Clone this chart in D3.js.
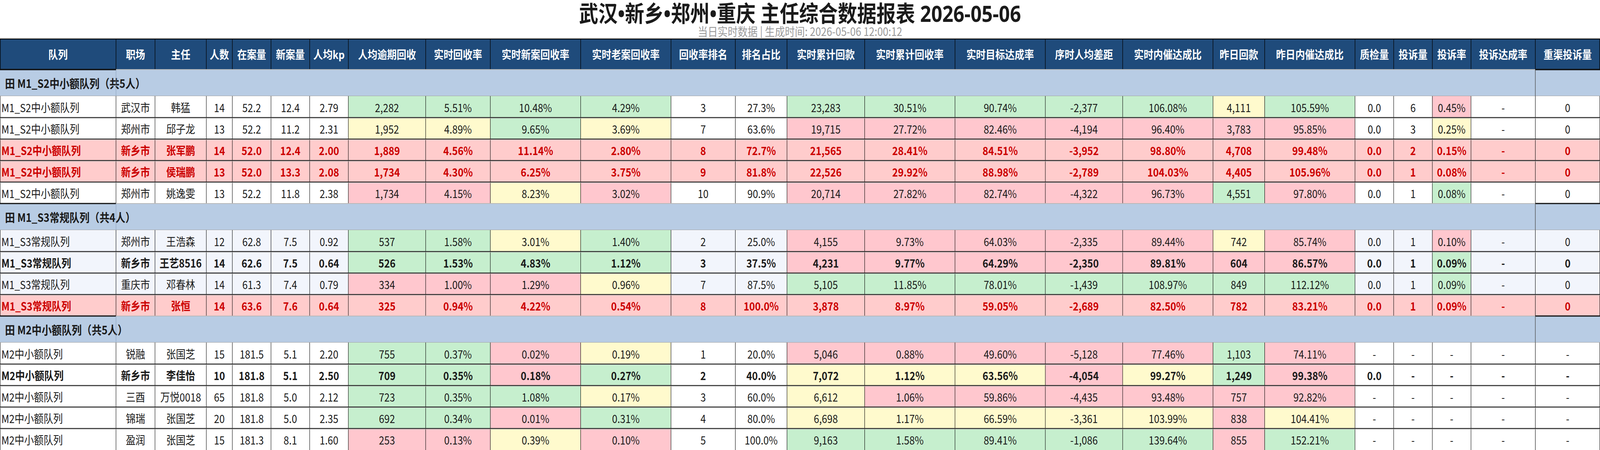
<!DOCTYPE html>
<html>
<head>
<meta charset="utf-8">
<script src="https://cdn.jsdelivr.net/npm/d3@7"></script>
<style>
  html, body { margin: 0; width: 100%; height: 100%; background: #fff; overflow: hidden; }
  #chart, svg { display: block; width: 100vw; height: 100vh; }
  text { font-family: "Noto Sans CJK SC", "Noto Sans", sans-serif; }
  text.title { font-family: "Noto Sans", "Noto Sans CJK SC", sans-serif; }
</style>
</head>
<body>
<div id="chart"></div>
<script>
// ---- data ----
const title = "武汉•新乡•郑州•重庆 主任综合数据报表 2026-05-06";
const subtitle = "当日实时数据 | 生成时间: 2026-05-06 12:00:12";

const headers = ["队列", "职场", "主任", "人数", "在案量", "新案量", "人均kp", "人均逾期回收", "实时回收率",
  "实时新案回收率", "实时老案回收率", "回收率排名", "排名占比", "实时累计回款", "实时累计回收率", "实时目标达成率",
  "序时人均差距", "实时内催达成比", "昨日回款", "昨日内催达成比", "质检量", "投诉量", "投诉率", "投诉达成率", "重渠投诉量"];

const groups = ["M1_S2中小额队列", "M1_S3常规队列", "M2中小额队列"];
const groupSize = [5, 4, 5];

const site = ["武汉市", "郑州市", "新乡市", "新乡市", "郑州市", "郑州市", "新乡市", "重庆市", "新乡市", "锐融", "新乡市", "三酉", "锦瑞", "盈润"];
const director = ["韩猛", "邱子龙", "张军鹏", "侯瑞鹏", "姚逸雯", "王浩森", "王艺8516", "邓春林", "张恒", "张国芝", "李佳怡", "万悦0018", "张国芝", "张国芝"];
const headcount = [14, 13, 14, 13, 13, 12, 14, 14, 14, 15, 10, 65, 20, 15];
const caseload = [52.2, 52.2, 52.0, 52.0, 52.2, 62.8, 62.6, 61.3, 63.6, 181.5, 181.8, 181.8, 181.8, 181.3];
const newCases = [12.4, 11.2, 12.4, 13.3, 11.8, 7.5, 7.5, 7.4, 7.6, 5.1, 5.1, 5.0, 5.0, 8.1];
const kp = [2.79, 2.31, 2.00, 2.08, 2.38, 0.92, 0.64, 0.79, 0.64, 2.20, 2.50, 2.12, 2.35, 1.60];
const overdueRecovery = [2282, 1952, 1889, 1734, 1734, 537, 526, 334, 325, 755, 709, 723, 692, 253];
const recoveryRate = [5.51, 4.89, 4.56, 4.30, 4.15, 1.58, 1.53, 1.00, 0.94, 0.37, 0.35, 0.35, 0.34, 0.13];
const newRate = [10.48, 9.65, 11.14, 6.25, 8.23, 3.01, 4.83, 1.29, 4.22, 0.02, 0.18, 1.08, 0.01, 0.39];
const oldRate = [4.29, 3.69, 2.80, 3.75, 3.02, 1.40, 1.12, 0.96, 0.54, 0.19, 0.27, 0.17, 0.31, 0.10];
const rank = [3, 7, 8, 9, 10, 2, 3, 7, 8, 1, 2, 3, 4, 5];
const rankPct = [27.3, 63.6, 72.7, 81.8, 90.9, 25.0, 37.5, 87.5, 100.0, 20.0, 40.0, 60.0, 80.0, 100.0];
const cumPayment = [23283, 19715, 21565, 22526, 20714, 4155, 4231, 5105, 3878, 5046, 7072, 6612, 6698, 9163];
const cumRate = [30.51, 27.72, 28.41, 29.92, 27.82, 9.73, 9.77, 11.85, 8.97, 0.88, 1.12, 1.06, 1.17, 1.58];
const targetRate = [90.74, 82.46, 84.51, 88.98, 82.74, 64.03, 64.29, 78.01, 59.05, 49.60, 63.56, 59.86, 66.59, 89.41];
const gap = [-2377, -4194, -3952, -2789, -4322, -2335, -2350, -1439, -2689, -5128, -4054, -4435, -3361, -1086];
const innerRatio = [106.08, 96.40, 98.80, 104.03, 96.73, 89.44, 89.81, 108.97, 82.50, 77.46, 99.27, 93.48, 103.99, 139.64];
const yesterdayPay = [4111, 3783, 4708, 4405, 4551, 742, 604, 849, 782, 1103, 1249, 757, 838, 855];
const yesterdayRatio = [105.59, 95.85, 99.48, 105.96, 97.80, 85.74, 86.57, 112.12, 83.21, 74.11, 99.38, 92.82, 104.41, 152.21];
const qc = [0, 0, 0, 0, 0, 0, 0, 0, 0, null, 0, null, null, null];
const complaints = [6, 3, 2, 1, 1, 1, 1, 1, 1, null, null, null, null, null];
const complaintRate = [0.45, 0.25, 0.15, 0.08, 0.08, 0.10, 0.09, 0.09, 0.09, null, null, null, null, null];
const complaintTarget = [null, null, null, null, null, null, null, null, null, null, null, null, null, null];
const reComplaints = [0, 0, 0, 0, 0, 0, 0, 0, 0, null, null, null, null, null];

// G = good, Y = warn, P = bad, _ = none; for the graded columns in order
const levels = ["GGGGGGGGGYGP", "YYGYPPPPPPPY", "PPPPPPPPPPPP", "PPPPPPPPPPPP", "PPYPPPPPPGPG",
  "GGYGPPPPPYPP", "GGGGPPPPPPPG", "PPPYGGGGGGGG", "PPPPPPPPPPPP",
  "GGPYPPPPPGP_", "GGPGYYYPYGP_", "GGGYYPPPPPP_", "GGPGYYYYYPY_", "PPYPGGGGGPG_"];
// hl = flagged row, bold = emphasised row
const rowFlag = ["", "", "hl", "hl", "", "", "bold", "", "hl", "", "bold", "", "", ""];

// ---- layout (drawn in 4800x1152 units, scaled to the window) ----
const W = 4800, H = 1152;
const colW = [348, 117, 154, 78, 116, 116, 116, 232, 194, 271, 271, 193, 155, 233, 271, 271, 232, 271, 155, 271, 116, 116, 116, 193, 194];
const levelCols = [7, 8, 9, 10, 13, 14, 15, 16, 17, 18, 19, 22];
const levelFill = { G: "#C6EFCE", Y: "#FFFACD", P: "#FFC7CE" };
const hlFill = "#FFCCCC";
const headTop = 100, headH = 78, groupH = 68, rowH = 55;
const fs = 29;

const colX = [0, ...d3.cumsum(colW)];
const nCol = colW.length;

const loc = d3.formatLocale({ decimal: ".", thousands: ",", grouping: [3], currency: ["", ""], minus: "-" });
const fInt = loc.format(","), f1 = loc.format(".1f"), f2 = loc.format(".2f");
const orDash = f => v => (v == null ? "-" : f(v));
const p2 = v => f2(v) + "%", p1 = v => f1(v) + "%";

// queue per row from the group sizes
const queue = groups.flatMap((g, i) => d3.range(groupSize[i]).map(() => g));
const groupOf = groups.flatMap((g, i) => d3.range(groupSize[i]).map(() => i));

function cellsFor(i) {
  return [queue[i], site[i], director[i], String(headcount[i]), f1(caseload[i]), f1(newCases[i]), f2(kp[i]),
    fInt(overdueRecovery[i]), p2(recoveryRate[i]), p2(newRate[i]), p2(oldRate[i]), String(rank[i]), p1(rankPct[i]),
    fInt(cumPayment[i]), p2(cumRate[i]), p2(targetRate[i]), fInt(gap[i]), p2(innerRatio[i]), fInt(yesterdayPay[i]),
    p2(yesterdayRatio[i]), orDash(f1)(qc[i]), orDash(String)(complaints[i]), orDash(p2)(complaintRate[i]),
    orDash(String)(complaintTarget[i]), orDash(String)(reComplaints[i])];
}

// table rows with their vertical position
const tableRows = [];
let yy = headTop + headH, k = 0;
groups.forEach((g, gi) => {
  tableRows.push({ type: "group", gi, y: yy, h: groupH });
  yy += groupH;
  for (let j = 0; j < groupSize[gi]; j++) {
    tableRows.push({ type: "data", i: k++, y: yy, h: rowH });
    yy += rowH;
  }
});

const svg = d3.select("#chart").append("svg")
  .attr("viewBox", `0 0 ${W} ${H}`)
  .attr("preserveAspectRatio", "none");

// titles
svg.append("text").attr("class", "title").attr("x", W / 2).attr("y", 33).attr("text-anchor", "middle")
  .attr("dominant-baseline", "central").attr("font-size", 58).attr("font-weight", 700)
  .attr("fill", "#1a1a1a").text(title);
svg.append("text").attr("x", W / 2).attr("y", 79).attr("text-anchor", "middle")
  .attr("dominant-baseline", "central").attr("font-size", 30).attr("fill", "#9a9a9a").text(subtitle);

// header
const head = svg.append("g").attr("transform", `translate(0,${headTop})`);
head.selectAll("rect").data(headers).join("rect")
  .attr("x", (d, i) => colX[i]).attr("y", 0).attr("width", (d, i) => colW[i]).attr("height", headH)
  .attr("fill", "#1F4B7B");
head.selectAll("text").data(headers).join("text")
  .attr("x", (d, i) => colX[i] + colW[i] / 2).attr("y", headH / 2)
  .attr("text-anchor", "middle").attr("dominant-baseline", "central")
  .attr("font-size", fs).attr("font-weight", 700).attr("fill", "#fff").text(d => d);
head.selectAll("line.v").data(colX).join("line").attr("class", "v")
  .attr("x1", d => Math.min(Math.max(d, 1), W - 1)).attr("x2", d => Math.min(Math.max(d, 1), W - 1))
  .attr("y1", 0).attr("y2", headH).attr("stroke", "#000").attr("stroke-width", 1.5);
head.append("line").attr("x1", 0).attr("x2", W).attr("y1", -2).attr("y2", -2).attr("stroke", "#cfcfcf").attr("stroke-width", 2);
head.append("line").attr("x1", 0).attr("x2", W).attr("y1", 0).attr("y2", 0).attr("stroke", "#000").attr("stroke-width", 2);

// body rows
const rowG = svg.selectAll("g.row").data(tableRows).join("g").attr("class", "row")
  .attr("transform", d => `translate(0,${d.y})`);

rowG.each(function (r) {
  const g = d3.select(this);
  if (r.type === "group") {
    g.append("rect").attr("width", W).attr("height", r.h).attr("fill", "#B8CCE4");
    // middle top border light, frozen first/last columns dark
    g.append("line").attr("x1", colX[1]).attr("x2", colX[nCol - 1]).attr("y1", 0).attr("y2", 0)
      .attr("stroke", "#b9b9b9").attr("stroke-width", 2);
    [[0, colX[1]], [colX[nCol - 1], W]].forEach(([a, b]) => {
      g.append("line").attr("x1", a).attr("x2", b).attr("y1", 0).attr("y2", 0)
        .attr("stroke", "#111").attr("stroke-width", 3);
    });
    g.append("line").attr("x1", 0).attr("x2", W).attr("y1", r.h).attr("y2", r.h)
      .attr("stroke", "#a2a2a2").attr("stroke-width", 2);
    g.append("line").attr("x1", colX[nCol - 1]).attr("x2", colX[nCol - 1]).attr("y1", 0).attr("y2", r.h)
      .attr("stroke", "#4a4a4a").attr("stroke-width", 1.5);
    g.append("text").attr("x", 15).attr("y", r.h / 2).attr("dominant-baseline", "central")
      .attr("font-size", 30).attr("font-weight", 700).attr("fill", "#1a1a1a")
      .text(`田 ${groups[r.gi]}（共${groupSize[r.gi]}人）`);
    g.append("line").attr("x1", colX[1]).attr("x2", colX[1]).attr("y1", 0).attr("y2", r.h)
      .attr("stroke", "#8fa2bd").attr("stroke-width", 1.5).attr("opacity", 0.8);
    return;
  }
  const i = r.i;
  const flag = rowFlag[i];
  const base = groupOf[i] === 1 ? "#F2F5FC" : "#FFFFFF";
  const cells = cellsFor(i).map((t, c) => {
    const li = levelCols.indexOf(c);
    let fill = base;
    if (flag === "hl") fill = hlFill;
    else if (li >= 0 && levels[i][li] !== "_") fill = levelFill[levels[i][li]];
    return { t, c, fill };
  });
  g.selectAll("rect").data(cells).join("rect")
    .attr("x", d => colX[d.c]).attr("width", d => colW[d.c]).attr("height", r.h).attr("fill", d => d.fill);
  g.selectAll("text").data(cells).join("text")
    .attr("x", d => d.c === 0 ? 4 : colX[d.c] + colW[d.c] / 2)
    .attr("y", r.h / 2 + 1)
    .attr("text-anchor", d => d.c === 0 ? "start" : "middle")
    .attr("dominant-baseline", "central")
    .attr("font-size", fs)
    .attr("font-weight", flag ? 700 : 400)
    .attr("fill", flag === "hl" ? "#CC0000" : "#1a1a1a")
    .text(d => d.t);
  g.selectAll("line.v").data(colX).join("line").attr("class", "v")
    .attr("x1", d => Math.min(Math.max(d, 0.5), W - 0.5)).attr("x2", d => Math.min(Math.max(d, 0.5), W - 0.5))
    .attr("y1", 0).attr("y2", r.h).attr("stroke", "#000").attr("stroke-width", 1.2);
  const prevGroup = tableRows[tableRows.indexOf(r) - 1].type === "group";
  if (!prevGroup) {
    g.append("line").attr("x1", 0).attr("x2", W).attr("y1", 0).attr("y2", 0)
      .attr("stroke", "#2a2a2a").attr("stroke-width", 2.5);
    g.append("line").attr("x1", 0).attr("x2", W).attr("y1", 2).attr("y2", 2)
      .attr("stroke", "#c8c8c8").attr("stroke-width", 1);
  }
});

// frozen column borders under header
[[0, colX[1]], [colX[nCol - 1], W]].forEach(([a, b]) => {
  svg.append("line").attr("x1", a).attr("x2", b).attr("y1", headTop + headH).attr("y2", headTop + headH)
    .attr("stroke", "#111").attr("stroke-width", 3);
});
</script>
</body>
</html>
